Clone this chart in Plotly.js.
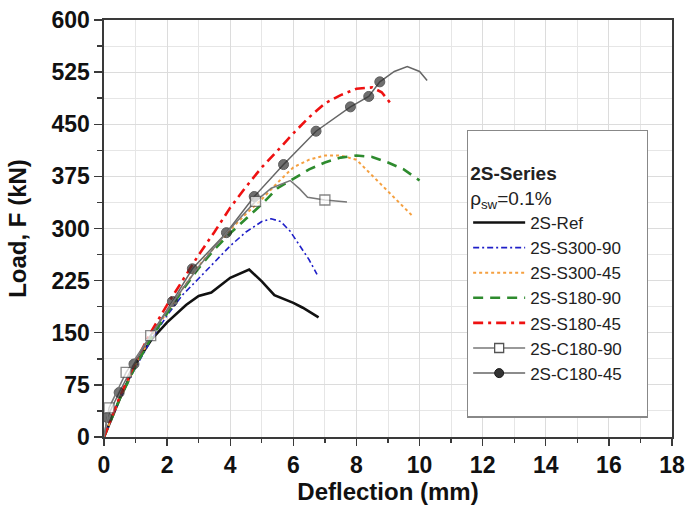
<!DOCTYPE html>
<html>
<head>
<meta charset="utf-8">
<script src="https://cdn.plot.ly/plotly-3.0.1.min.js"></script>
<style>
html, body { margin: 0; padding: 0; background: #ffffff; }
#chart { width: 688px; height: 505px; }
</style>
</head>
<body>
<div id="chart"></div>
<script>
// ---- Data (deflection in mm, load in kN) ----
var refX = [0, 0.5, 1, 1.5, 2, 2.6, 3.0, 3.4, 4.0, 4.6, 5.0, 5.4, 6.0, 6.3, 6.8];
var refY = [0, 55, 105, 140, 165, 190, 203, 208, 229, 241, 224, 204, 193, 186, 172];

var s300_90X = [0, 0.5, 1, 1.5, 2, 2.5, 3, 3.5, 4, 4.5, 5, 5.3, 5.6, 5.9, 6.2, 6.5, 6.75];
var s300_90Y = [0, 55, 100, 140, 175, 205, 228, 252, 275, 295, 310, 314, 310, 296, 275, 255, 234];

var s300_45X = [0, 0.5, 1, 1.5, 2, 2.5, 3, 3.5, 4, 4.5, 5, 5.5, 6, 6.5, 7, 7.5, 8, 8.5, 9, 9.5, 9.8];
var s300_45Y = [0, 55, 103, 145, 180, 214, 246, 273, 298, 321, 342, 366, 388, 399, 405, 405, 399, 376, 354, 331, 317];

var s180_90X = [0, 0.5, 1, 1.5, 2, 2.5, 3, 3.5, 4, 4.5, 5, 5.5, 6, 6.5, 7, 7.5, 8, 8.5, 9, 9.5, 10];
var s180_90Y = [0, 55, 102, 143, 178, 212, 243, 270, 293, 314, 335, 358, 372, 385, 395, 402, 405, 403, 395, 385, 369];

var s180_45X = [0, 0.5, 1, 1.5, 2, 2.5, 3, 3.5, 4, 4.5, 5, 5.5, 6, 6.5, 7, 7.5, 8, 8.5, 8.8, 9.1];
var s180_45Y = [0, 58, 108, 152, 190, 226, 262, 295, 330, 360, 388, 412, 437, 460, 480, 492, 501, 503, 496, 479];

var c180_90X = [0, 0.16, 0.7, 1.48, 2.2, 3.0, 3.9, 4.8, 5.3, 5.9, 6.2, 6.45, 7.0, 7.7];
var c180_90Y = [0, 42, 93, 146, 195, 245, 295, 339, 358, 369, 357, 345, 341, 338];
var c180_90Mark = [false, true, true, true, false, false, false, true, false, false, false, false, true, false];

var c180_45X = [0, 0.1, 0.48, 0.95, 1.5, 2.17, 2.8, 3.88, 4.76, 5.69, 6.72, 7.81, 8.39, 8.74, 9.2, 9.61, 10.0, 10.24];
var c180_45Y = [0, 28, 64, 105, 148, 195, 242, 294, 346, 392, 440, 475, 490, 511, 526, 533, 526, 513];
var c180_45Mark = [false, true, true, true, false, true, true, true, true, true, true, true, true, true, false, false, false, false];

var seriesNames = ['2S-Ref', '2S-S300-90', '2S-S300-45', '2S-S180-90', '2S-S180-45', '2S-C180-90', '2S-C180-45'];
var xTicks = [0, 2, 4, 6, 8, 10, 12, 14, 16, 18];
var yTicks = [0, 75, 150, 225, 300, 375, 450, 525, 600];
var legendHeading = '<b>2S-Series</b>';
var legendSubheading = 'ρ<sub>sw</sub>=0.1%';

// ---- Styling ----
var FONT = 'Arial, "Liberation Sans", sans-serif';
var sqStyle = {symbol: 'square', color: '#ffffff', line: {color: '#555555', width: 1.3}};
var dotStyle = {symbol: 'circle', color: '#333333', line: {color: '#1a1a1a', width: 1}};

function sizes(flags, s) { return flags.map(function (f) { return f ? s : 0; }); }

// first (blank) title line made of non-breaking spaces widens the legend box
var blankLine = new Array(34).join('\u00a0');

var traces = [
  {x: refX, y: refY, name: seriesNames[0], mode: 'lines',
   line: {color: '#111111', width: 2.6}},
  {x: s300_90X, y: s300_90Y, name: seriesNames[1], mode: 'lines',
   line: {color: '#1f1fc8', width: 1.6, dash: '6px,3px,2px,3px'}},
  {x: s300_45X, y: s300_45Y, name: seriesNames[2], mode: 'lines',
   line: {color: '#f5a040', width: 2, dash: 'dot'}},
  {x: s180_90X, y: s180_90Y, name: seriesNames[3], mode: 'lines',
   line: {color: '#2e8b2e', width: 2.6, dash: '10px,7px'}},
  {x: s180_45X, y: s180_45Y, name: seriesNames[4], mode: 'lines',
   line: {color: '#ee1111', width: 2.6, dash: '10px,5px,3px,5px'}},
  // C180-45 drawn below C180-90 (squares sit on top of dots)
  {x: c180_45X, y: c180_45Y, name: seriesNames[6], mode: 'lines+markers', showlegend: false,
   line: {color: '#666666', width: 1.5},
   marker: Object.assign({size: sizes(c180_45Mark, 10)}, dotStyle)},
  {x: c180_90X, y: c180_90Y, name: seriesNames[5], mode: 'lines+markers', showlegend: false,
   line: {color: '#777777', width: 1.5},
   marker: Object.assign({size: sizes(c180_90Mark, 10)}, sqStyle)},
  // legend entries for the marker series
  {x: [null], y: [null], name: seriesNames[5], mode: 'lines+markers',
   line: {color: '#777777', width: 1.5}, marker: Object.assign({size: 9}, sqStyle)},
  {x: [null], y: [null], name: seriesNames[6], mode: 'lines+markers',
   line: {color: '#666666', width: 1.5}, marker: Object.assign({size: 9}, dotStyle)},
  // blank spacer row at the bottom of the legend box
  {x: [null], y: [null], name: '\u00a0\u00a0', mode: 'lines', line: {color: 'rgba(0,0,0,0)', width: 0}}
];

var axisCommon = {
  showline: true, linecolor: '#3a3a3a', linewidth: 1.6, mirror: true,
  ticks: 'outside', ticklen: 8, tickwidth: 1.4, tickcolor: '#3a3a3a',
  showgrid: true, gridcolor: '#dcdcdc', gridwidth: 1,
  zeroline: false,
  tickfont: {family: FONT, size: 23, color: '#111111', weight: 'bold'}
};

var layout = {
  width: 688, height: 505,
  margin: {l: 104, r: 16, t: 20, b: 68},
  paper_bgcolor: '#ffffff', plot_bgcolor: '#ffffff',
  font: {family: FONT, color: '#111111'},
  showlegend: true,
  xaxis: Object.assign({}, axisCommon, {
    range: [0, 18], tickvals: xTicks, ticklen: 7,
    minor: {dtick: 1, tick0: 0, ticks: 'outside', ticklen: 4, tickcolor: '#3a3a3a', showgrid: true, gridcolor: '#e6e6e6'},
    title: {text: '<b>Deflection (mm)</b>', font: {family: FONT, size: 24, color: '#111111'}, standoff: 2}
  }),
  yaxis: Object.assign({}, axisCommon, {
    range: [0, 600], tickvals: yTicks,
    minor: {dtick: 37.5, tick0: 0, ticks: 'outside', ticklen: 5, tickcolor: '#3a3a3a', showgrid: true, gridcolor: '#e6e6e6'},
    title: {text: '<b>Load, F (kN)</b>', font: {family: FONT, size: 24, color: '#111111'}, standoff: 18}
  }),
  legend: {
    x: 0.639, y: 0.737, xanchor: 'left', yanchor: 'top',
    bgcolor: '#ffffff', bordercolor: '#888888', borderwidth: 1.2,
    font: {family: FONT, size: 17, color: '#222222'},
    title: {text: blankLine + '<br>' + legendHeading + '<br>' + legendSubheading, side: 'top',
            font: {family: FONT, size: 19, color: '#222222'}},
    tracegroupgap: 0, itemwidth: 52
  }
};

Plotly.newPlot('chart', traces, layout, {staticPlot: true, displayModeBar: false});
</script>
</body>
</html>
